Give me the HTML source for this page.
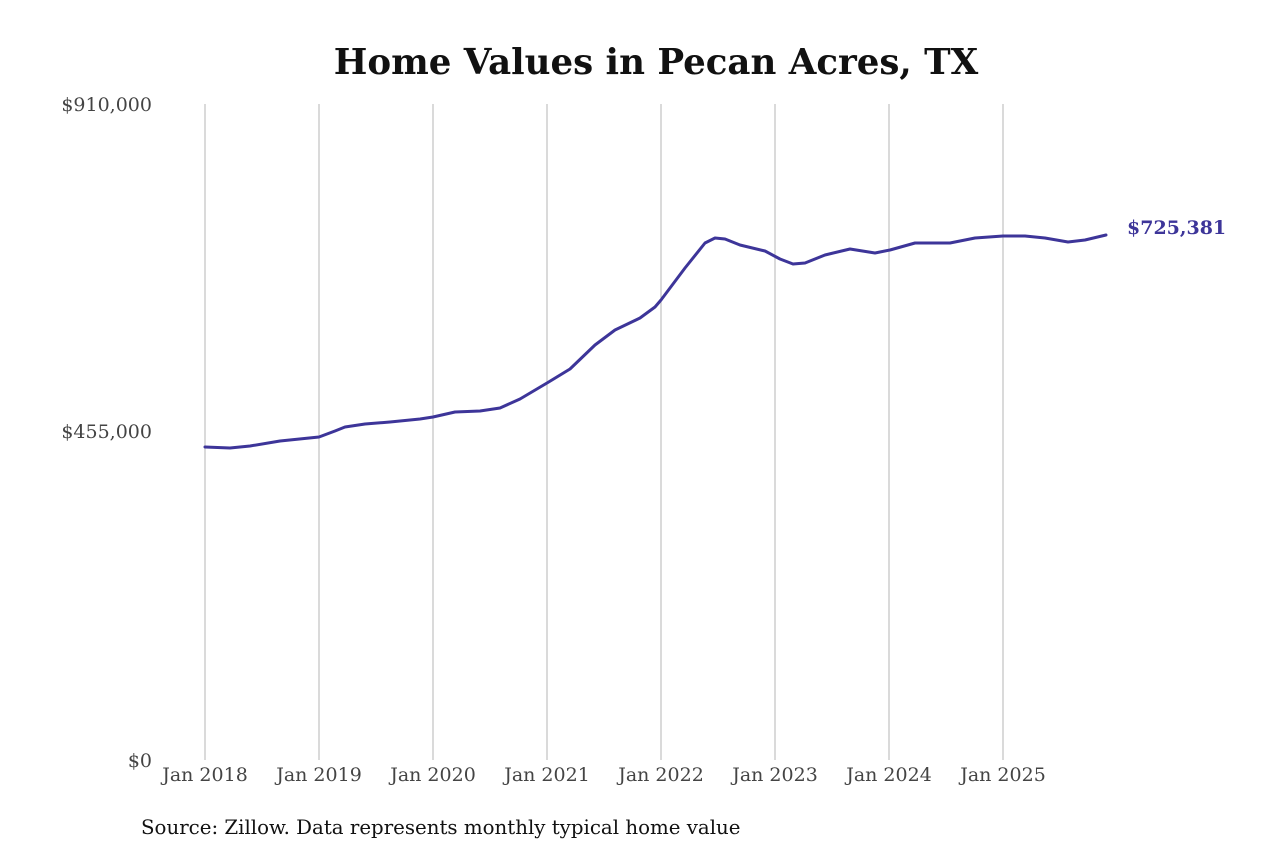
<!DOCTYPE html>
<html><head><meta charset="utf-8"><style>
body{margin:0;background:#fff;}
svg{display:block;}
</style></head><body>
<svg width="1280" height="853" xmlns="http://www.w3.org/2000/svg" font-family="'DejaVu Serif','Liberation Serif',serif">
<rect width="1280" height="853" fill="#fff"/>
<text x="656" y="74" text-anchor="middle" font-size="35.6" font-weight="bold" fill="#111">Home Values in Pecan Acres, TX</text>
<g stroke="#b4b4b4" stroke-width="1">
<line x1="205" y1="104" x2="205" y2="760"/>
<line x1="319" y1="104" x2="319" y2="760"/>
<line x1="433" y1="104" x2="433" y2="760"/>
<line x1="547" y1="104" x2="547" y2="760"/>
<line x1="661" y1="104" x2="661" y2="760"/>
<line x1="775" y1="104" x2="775" y2="760"/>
<line x1="889" y1="104" x2="889" y2="760"/>
<line x1="1003" y1="104" x2="1003" y2="760"/>
</g>
<g font-size="19" fill="#444" text-anchor="end">
<text x="152" y="111">$910,000</text>
<text x="152" y="438">$455,000</text>
<text x="152" y="767">$0</text>
</g>
<g font-size="19" fill="#444" text-anchor="middle">
<text x="205" y="781">Jan 2018</text>
<text x="319" y="781">Jan 2019</text>
<text x="433" y="781">Jan 2020</text>
<text x="547" y="781">Jan 2021</text>
<text x="661" y="781">Jan 2022</text>
<text x="775" y="781">Jan 2023</text>
<text x="889" y="781">Jan 2024</text>
<text x="1003" y="781">Jan 2025</text>
</g>
<path fill="none" stroke="#3d3599" stroke-width="3" stroke-linejoin="round" stroke-linecap="round"
d="M205,447 L230,448 L250,446 L280,441 L319,437 L335,431 L345,427 L365,424 L390,422 L420,419 L433,417 L455,412 L480,411 L500,408 L520,399 L547,383 L570,369 L595,345 L615,330 L640,318 L655,307 L661,300 L685,268 L705,243 L715,238 L725,239 L740,245 L765,251 L780,259 L793,264 L805,263 L825,255 L850,249 L875,253 L890,250 L915,243 L935,243 L950,243 L975,238 L1003,236 L1025,236 L1045,238 L1068,242 L1085,240 L1106,235"/>
<text x="1127" y="234" font-size="19" font-weight="bold" fill="#3d3599">$725,381</text>
<text x="141" y="834" font-size="19.8" fill="#111">Source: Zillow. Data represents monthly typical home value</text>
</svg>
</body></html>
